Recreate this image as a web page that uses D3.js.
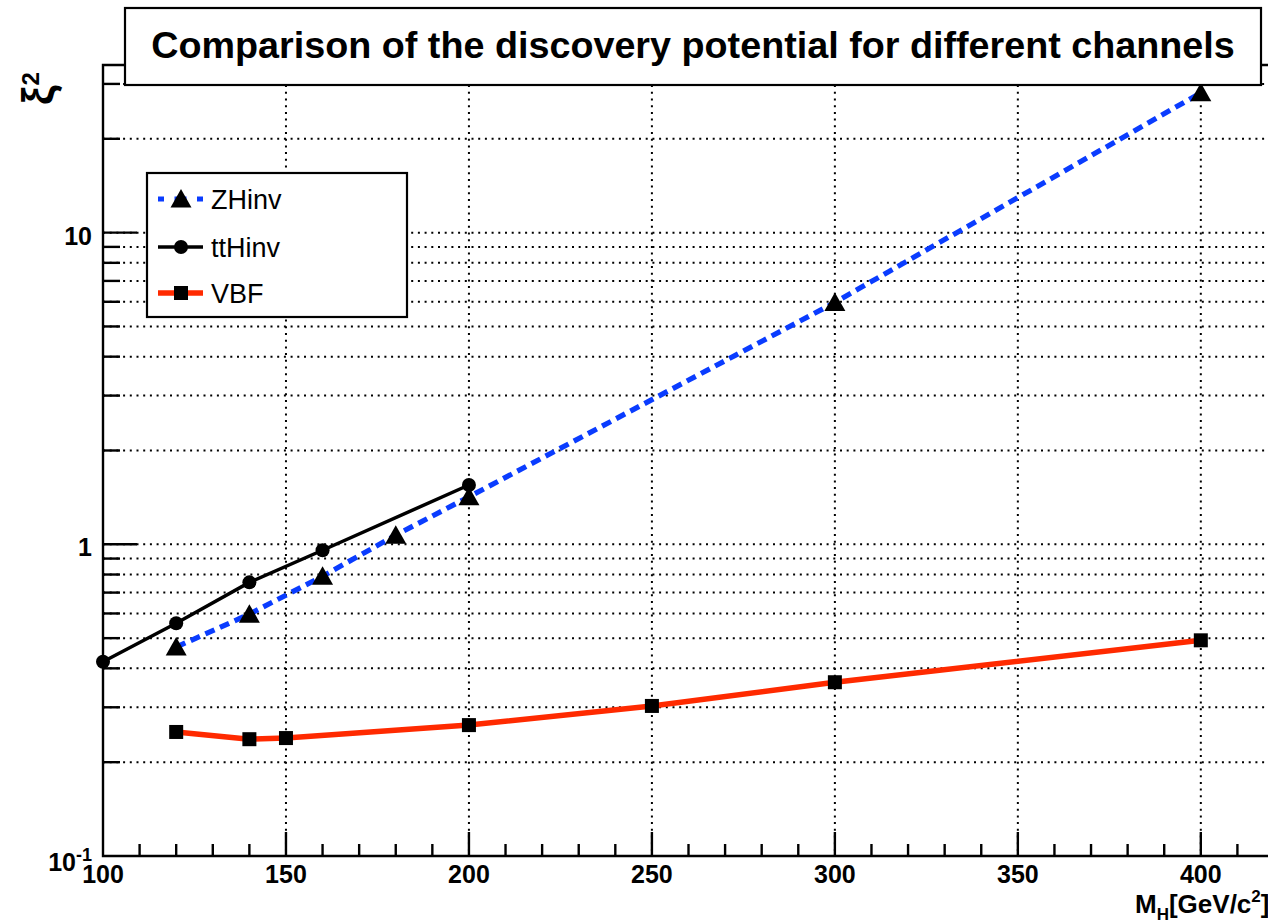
<!DOCTYPE html>
<html>
<head>
<meta charset="utf-8">
<title>Discovery potential</title>
<script src="https://d3js.org/d3.v7.min.js"></script>
<style>
html, body { margin: 0; padding: 0; background: #fff; }
svg { display: block; font-family: "Liberation Sans", Arial, Helvetica, sans-serif; }
</style>
</head>
<body>
<div id="chart"></div>
<script>
// data
var zhMass = [120, 140, 160, 180, 200, 300, 400];
var zhXi2  = [0.468, 0.597, 0.79, 1.07, 1.42, 5.97, 28.1];
var ttMass = [100, 120, 140, 160, 200];
var ttXi2  = [0.42, 0.558, 0.755, 0.957, 1.55];
var vbfMass = [120, 140, 150, 200, 250, 300, 400];
var vbfXi2  = [0.25, 0.237, 0.239, 0.263, 0.303, 0.361, 0.492];

var xMajor = [100, 150, 200, 250, 300, 350, 400];
var yMinor = [0.2, 0.3, 0.4, 0.5, 0.6, 0.7, 0.8, 0.9, 2, 3, 4, 5, 6, 7, 8, 9, 20, 30];
var yMajor = [1, 10];

var W = 1268, H = 923;
var pL = 103, pR = 1274, pT = 65, pB = 856;

var svg = d3.select("#chart").append("svg")
    .attr("width", W).attr("height", H);

var x = d3.scaleLinear().domain([100, 420]).range([pL, pR]);
var y = d3.scaleLog().domain([0.1, 34.5]).range([pB, pT]);

var zip = (a, b) => a.map((v, i) => [v, b[i]]);

// grid
var grid = svg.append("g")
    .attr("stroke", "#000").attr("stroke-width", 2)
    .attr("stroke-dasharray", "2,4.7");
grid.selectAll("line.h")
  .data(yMinor.concat(yMajor))
  .join("line")
    .attr("class", "h")
    .attr("x1", pL).attr("x2", W)
    .attr("y1", d => y(d)).attr("y2", d => y(d));
grid.selectAll("line.v")
  .data(xMajor.slice(1))
  .join("line")
    .attr("class", "v")
    .attr("y1", pT).attr("y2", pB)
    .attr("x1", d => x(d)).attr("x2", d => x(d));

// axes frame
var ax = svg.append("g").attr("stroke", "#000").attr("stroke-width", 2.4).attr("fill", "none");
ax.append("path").attr("d", `M${W},${pT}H${pL}V${pB}H${W}`);

// x ticks
ax.selectAll("line.xt")
  .data(d3.range(110, 421, 10))
  .join("line")
    .attr("class", "xt")
    .attr("x1", d => x(d)).attr("x2", d => x(d))
    .attr("y1", pB)
    .attr("y2", d => pB - (d % 50 === 0 ? 24 : 12));
// y ticks
ax.selectAll("line.yt")
  .data(yMinor.concat(yMajor))
  .join("line")
    .attr("class", "yt")
    .attr("y1", d => y(d)).attr("y2", d => y(d))
    .attr("x1", pL)
    .attr("x2", d => pL + (yMajor.includes(d) ? 34 : 17));

// tick labels
var lab = svg.append("g").attr("font-weight", "bold").attr("font-size", 25).attr("fill", "#000");
lab.selectAll("text.xl")
  .data(xMajor)
  .join("text")
    .attr("class", "xl")
    .attr("x", d => x(d)).attr("y", 883)
    .attr("text-anchor", "middle")
    .text(d => d);
lab.selectAll("text.yl")
  .data(yMajor)
  .join("text")
    .attr("class", "yl")
    .attr("x", 92).attr("y", d => y(d) + 12)
    .attr("text-anchor", "end")
    .text(d => d);
var lo = lab.append("text").attr("x", 92).attr("y", 871).attr("text-anchor", "end");
lo.append("tspan").text("10");
lo.append("tspan").attr("font-size", 18).attr("dy", -10).text("-1");

// axis titles
var xt = svg.append("text").attr("x", 1135).attr("y", 913)
    .attr("font-weight", "bold").attr("font-size", 26);
xt.append("tspan").text("M");
xt.append("tspan").attr("font-size", 17).attr("dy", 7).text("H");
xt.append("tspan").attr("dy", -7).text("[GeV/c");
xt.append("tspan").attr("font-size", 17).attr("dy", -11).text("2");
xt.append("tspan").attr("dy", 11).text("]");

var yt = svg.append("text").attr("transform", "translate(53,105) rotate(-90)")
    .attr("font-weight", "bold").attr("font-size", 44);
yt.append("tspan").text("ξ");
yt.append("tspan").attr("font-size", 24).attr("dy", -14).text("2");

// series
var line = d3.line().x(d => x(d[0])).y(d => y(d[1]));
var tri = "M0,-10L10.5,8.5L-10.5,8.5Z";

svg.append("path").datum(zip(zhMass, zhXi2))
    .attr("d", line).attr("fill", "none")
    .attr("stroke", "#0a3cff").attr("stroke-width", 5.2).attr("stroke-dasharray", "10,6");
svg.append("path").datum(zip(ttMass, ttXi2))
    .attr("d", line).attr("fill", "none")
    .attr("stroke", "#000").attr("stroke-width", 3.5);
svg.append("path").datum(zip(vbfMass, vbfXi2))
    .attr("d", line).attr("fill", "none")
    .attr("stroke", "#ff2a00").attr("stroke-width", 5.5);

svg.append("g").selectAll("path")
  .data(zip(zhMass, zhXi2))
  .join("path")
    .attr("transform", d => `translate(${x(d[0])},${y(d[1])})`)
    .attr("d", tri).attr("fill", "#000");
svg.append("g").selectAll("circle")
  .data(zip(ttMass, ttXi2))
  .join("circle")
    .attr("cx", d => x(d[0])).attr("cy", d => y(d[1]))
    .attr("r", 7).attr("fill", "#000");
svg.append("g").selectAll("rect")
  .data(zip(vbfMass, vbfXi2))
  .join("rect")
    .attr("x", d => x(d[0]) - 7).attr("y", d => y(d[1]) - 7)
    .attr("width", 14).attr("height", 14).attr("fill", "#000");

// legend
var leg = svg.append("g");
leg.append("rect").attr("x", 147).attr("y", 173).attr("width", 260).attr("height", 144)
    .attr("fill", "#fff").attr("stroke", "#000").attr("stroke-width", 2.2);
var entries = [
  {name: "ZHinv", color: "#0a3cff", dash: "6,10.5,12,10.5", w: 5.2, mark: "tri"},
  {name: "ttHinv", color: "#000", dash: null, w: 3.5, mark: "circ"},
  {name: "VBF", color: "#ff2a00", dash: null, w: 5.5, mark: "sq"}
];
var ly = [199, 247, 293];
entries.forEach((e, i) => {
  var g = leg.append("g").attr("transform", `translate(0,${ly[i]})`);
  g.append("line").attr("x1", 158).attr("x2", 203)
    .attr("stroke", e.color).attr("stroke-width", e.w)
    .attr("stroke-dasharray", e.dash);
  if (e.mark === "tri") g.append("path").attr("transform", "translate(181,0)").attr("d", tri);
  if (e.mark === "circ") g.append("circle").attr("cx", 181).attr("r", 7);
  if (e.mark === "sq") g.append("rect").attr("x", 174).attr("y", -7).attr("width", 14).attr("height", 14);
  g.append("text").attr("x", 211).attr("y", 10).attr("font-size", 27).text(e.name);
});

// title box
svg.append("rect").attr("x", 125).attr("y", 8).attr("width", 1136).attr("height", 77)
    .attr("fill", "#fff").attr("stroke", "#000").attr("stroke-width", 2.2);
var title = svg.append("text").attr("x", 693).attr("y", 58)
    .attr("text-anchor", "middle").attr("font-weight", "bold").attr("font-size", 30)
    .text("Comparison of the discovery potential for different channels");
var tw = title.node().getComputedTextLength();
title.attr("font-size", 30 * 1084 / tw);
</script>
</body>
</html>
